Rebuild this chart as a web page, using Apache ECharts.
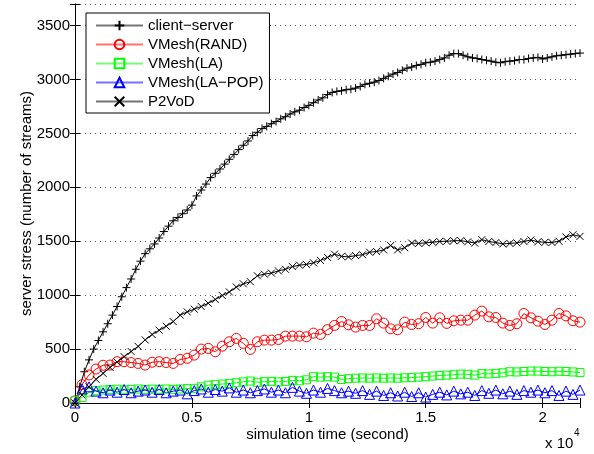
<!DOCTYPE html>
<html>
<head>
<meta charset="utf-8">
<script src="https://cdn.jsdelivr.net/npm/echarts@6/dist/echarts.min.js"></script>
<style>
html, body { margin: 0; padding: 0; background: #fff; }
#chart { width: 594px; height: 454px; }
</style>
</head>
<body>
<div id="chart"></div>
<script>
// DATA (client-server sampled every 200 s, the others every 300 s)
var csStep = 200;
var step = 300;
var clientServer = [0,150,290,400,500,580,660,735,815,895,
  985,1070,1150,1240,1315,1385,1430,1475,1530,1590,
  1640,1690,1720,1755,1790,1835,1920,1975,2030,2090,
  2130,2170,2215,2260,2305,2350,2390,2430,2480,2510,
  2545,2565,2590,2610,2635,2655,2680,2700,2715,2740,
  2760,2785,2810,2830,2860,2880,2890,2895,2905,2910,
  2920,2935,2955,2965,2975,2990,3010,3030,3050,3065,
  3085,3105,3115,3130,3140,3155,3160,3170,3185,3200,
  3225,3240,3240,3225,3210,3200,3195,3185,3178,3170,
  3160,3155,3165,3170,3175,3185,3185,3195,3200,3205,
  3190,3200,3210,3220,3225,3230,3235,3240,3245];
var vmeshRand = [20,170,260,315,350,352,383,383,375,367,
  352,378,383,375,367,404,414,444,500,506,
  475,527,568,599,553,497,568,583,583,589,
  620,620,620,614,648,636,680,719,756,725,
  704,719,719,781,741,688,679,750,728,735,
  793,741,790,738,762,768,768,815,852,799,
  793,741,719,735,830,790,759,728,768,830,
  808,762,750];
var vmeshLa = [20,50,100,114,120,126,128,122,126,130,
  124,128,126,130,126,130,134,136,150,165,
  170,176,180,188,196,204,192,198,200,196,
  200,210,206,215,244,240,244,240,218,226,
  230,232,230,232,230,232,230,234,236,240,
  244,250,256,258,262,268,266,258,272,270,
  275,280,290,288,292,296,296,292,290,294,
  292,288,282];
var vmeshLaPop = [0,130,150,110,95,120,100,125,95,110,
  120,100,125,95,110,120,85,115,130,100,
  125,110,140,100,120,95,115,130,100,120,
  95,145,110,90,120,100,135,115,95,110,
  90,115,80,110,70,95,65,100,60,95,
  55,80,100,75,110,85,100,70,115,90,
  120,85,110,80,115,100,120,95,115,70,
  110,80,120];
var p2vod = [0,75,150,220,275,330,380,430,478,525,
  585,635,675,712,755,815,845,870,895,925,
  960,997,1030,1075,1105,1125,1180,1195,1205,1225,
  1240,1265,1278,1285,1300,1322,1350,1380,1360,1355,
  1367,1375,1398,1405,1420,1460,1420,1440,1483,1480,
  1485,1490,1498,1500,1505,1506,1495,1483,1515,1498,
  1488,1475,1480,1485,1498,1512,1495,1490,1488,1500,
  1540,1560,1545];
var seriesNames = ['client\u2212server', 'VMesh(RAND)', 'VMesh(LA)', 'VMesh(LA\u2212POP)', 'P2VoD'];

function pairs(dt, vals) {
  return vals.map(function (v, i) { return [i * dt, v]; });
}

var FONT = 'Liberation Sans';
var plusPath = 'path://M0,5L10,5M5,0L5,10';
var crossPath = 'path://M0,0L10,10M10,0L0,10';

function lineSeries(name, data, color, symbol, size) {
  return {
    name: name,
    type: 'line',
    data: data,
    symbol: symbol,
    symbolSize: size,
    showAllSymbol: true,
    lineStyle: { color: color, width: 1 },
    itemStyle: { color: 'transparent', borderColor: color, borderWidth: 1 },
    emphasis: { disabled: true }
  };
}

var myChart = echarts.init(document.getElementById('chart'));
var option = {
  backgroundColor: '#fff',
  animation: false,
  textStyle: { fontFamily: FONT },
  grid: { left: 75, right: 14, top: 4, bottom: 51 },
  legend: {
    orient: 'vertical',
    left: 86,
    top: 13,
    padding: [5, 6, 4, 9],
    itemWidth: 47,
    itemHeight: 12,
    itemGap: 4,
    backgroundColor: '#fff',
    borderColor: '#000',
    borderWidth: 1,
    borderRadius: 0,
    lineStyle: { opacity: 0.55 },
    textStyle: { fontFamily: FONT, fontSize: 15, color: '#000', lineHeight: 15 },
    data: seriesNames
  },
  xAxis: [{
    type: 'value',
    min: 0, max: 21600, interval: 5000,
    name: 'simulation time (second)',
    nameLocation: 'middle',
    nameGap: 24,
    nameMoveOverlap: false,
    nameTextStyle: { fontFamily: FONT, fontSize: 15, color: '#000' },
    axisLine: { lineStyle: { color: '#000', width: 1 } },
    axisTick: { inside: true, length: 5, lineStyle: { color: '#000' } },
    axisLabel: {
      margin: 7, fontFamily: FONT, fontSize: 15, color: '#000',
      formatter: function (v) { return v % 5000 === 0 ? String(v / 10000) : ''; }
    },
    splitLine: { show: false }
  }, {
    type: 'value', position: 'top',
    min: 0, max: 21600, interval: 5000,
    axisLine: { lineStyle: { color: '#000', width: 1 } },
    axisTick: { inside: true, length: 5, lineStyle: { color: '#000' } },
    axisLabel: { show: false },
    splitLine: { show: false }
  }],
  yAxis: [{
    type: 'value',
    min: 0, max: 3700, interval: 500,
    name: 'server stress (number of streams)',
    nameLocation: 'middle',
    nameGap: 41,
    nameMoveOverlap: false,
    nameTextStyle: { fontFamily: FONT, fontSize: 15, color: '#000' },
    axisLine: { show: true, lineStyle: { color: '#000', width: 1 } },
    axisTick: { show: true, inside: true, length: 5, lineStyle: { color: '#000' } },
    axisLabel: {
      margin: 5, fontFamily: FONT, fontSize: 15, color: '#000',
      formatter: function (v) { return v % 500 === 0 ? String(v) : ''; }
    },
    splitLine: { show: true, lineStyle: { color: '#555', width: 1, type: [1, 4] } }
  }, {
    type: 'value', position: 'right',
    min: 0, max: 3700, interval: 500,
    axisLine: { show: true, lineStyle: { color: '#000', width: 1 } },
    axisTick: { show: true, inside: true, length: 5, lineStyle: { color: '#000' } },
    axisLabel: { show: false },
    splitLine: { show: false }
  }],
  graphic: [
    { type: 'text', left: 545, top: 436, style: { text: 'x 10', font: '15px "Liberation Sans"', fill: '#000' } },
    { type: 'text', left: 574, top: 428, style: { text: '4', font: '10px "Liberation Sans"', fill: '#000' } }
  ],
  series: [
    lineSeries(seriesNames[0], pairs(csStep, clientServer), '#000', plusPath, 8),
    lineSeries(seriesNames[1], pairs(step, vmeshRand), '#ff0000', 'circle', 10),
    lineSeries(seriesNames[2], pairs(step, vmeshLa), '#00ff00', 'rect', 8),
    lineSeries(seriesNames[3], pairs(step, vmeshLaPop), '#0000ff', 'triangle', 10),
    lineSeries(seriesNames[4], pairs(step, p2vod), '#000', crossPath, 7)
  ]
};
myChart.setOption(option);
</script>
</body>
</html>
